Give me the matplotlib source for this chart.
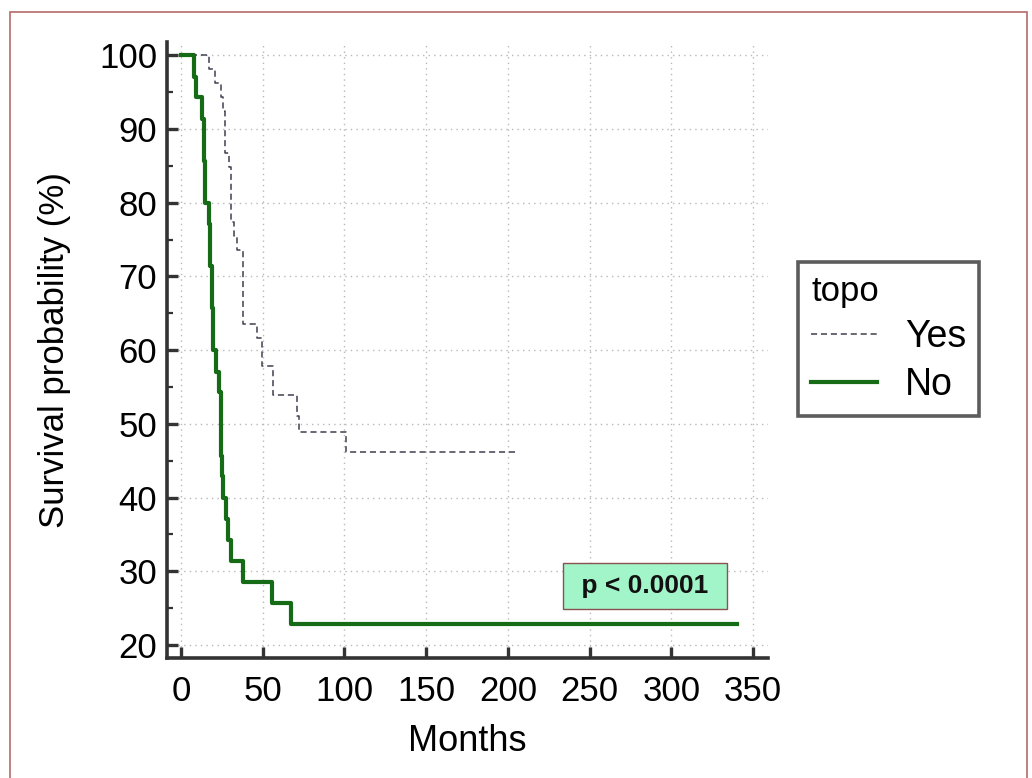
import matplotlib
matplotlib.use("Agg")
import matplotlib.pyplot as plt
from matplotlib.patches import Rectangle
from matplotlib.ticker import MultipleLocator

# Kaplan-Meier step data (months, survival %)
yes_months = [0, 17.3, 20.8, 24.2, 25.4, 26.9, 29.5, 30.7, 32.4, 34.0, 37.8,
              46.6, 49.3, 56.4, 70.7, 72.3, 100.7, 206.0]
yes_surv = [100, 98.1, 96.2, 94.3, 92.5, 86.8, 84.9, 77.4, 75.5, 73.6, 63.6,
            61.6, 57.8, 53.9, 51.0, 48.9, 46.2, 46.2]

no_months = [0, 8.1, 9.2, 12.6, 14.0, 14.2, 14.7, 14.9, 17.3, 17.5, 17.7,
             18.7, 18.9, 19.4, 19.6, 21.4, 23.4, 24.2, 24.4, 24.6, 24.8,
             25.9, 27.3, 28.9, 30.6, 38.1, 55.8, 67.6, 340.5]
no_surv = [100, 97.1, 94.3, 91.4, 88.6, 85.7, 82.9, 80.0, 77.1, 74.3, 71.4,
           68.6, 65.7, 62.9, 60.0, 57.1, 54.3, 51.4, 48.6, 45.7, 42.9,
           40.0, 37.1, 34.3, 31.4, 28.6, 25.7, 22.9, 22.9]

group_labels = ["Yes", "No"]
legend_title = "topo"
x_ticks = [0, 50, 100, 150, 200, 250, 300, 350]
y_ticks = [20, 30, 40, 50, 60, 70, 80, 90, 100]
p_text = "p < 0.0001"

FONT = "Liberation Sans"
W, H = 1032, 778
fig = plt.figure(figsize=(W / 100, H / 100), dpi=100)
fig.patch.set_facecolor("white")

# thin frame around the whole figure
fig.patches.append(Rectangle((10 / W, -0.02), (1027 - 10) / W, 1 - 12 / H + 0.02,
                             transform=fig.transFigure, fill=False,
                             edgecolor="#b86a6a", linewidth=1.2))

ax = fig.add_axes([167 / W, (H - 658) / H, (768 - 167) / W, (658 - 42) / H])
ax.set_xlim(-8.57, 359.2)
ax.set_ylim(18.24, 101.8)

green = "#166b16"
ax.step(yes_months, yes_surv, where="post", color="#40404f", linewidth=1.1,
        linestyle=(0, (4, 2.5)), label=group_labels[0], zorder=3)
ax.step(no_months, no_surv, where="post", color=green, linewidth=3.0,
        label=group_labels[1], zorder=4)

# axes styling
for side in ("top", "right"):
    ax.spines[side].set_visible(False)
for side in ("left", "bottom"):
    ax.spines[side].set_linewidth(2.6)
    ax.spines[side].set_color("#333333")

ax.set_xticks(x_ticks)
ax.set_yticks(y_ticks)
ax.yaxis.set_minor_locator(MultipleLocator(5))
ax.tick_params(which="major", direction="in", length=8, width=2.4, color="#333333")
ax.tick_params(axis="y", which="minor", direction="in", length=4, width=1.6,
               color="#333333")
ax.tick_params(axis="x", which="major", pad=12)
ax.tick_params(axis="y", which="major", pad=7)
for lab in ax.get_xticklabels() + ax.get_yticklabels():
    lab.set_fontfamily(FONT)
    lab.set_fontsize(25)

ax.grid(True, which="major", linestyle=(0, (1, 3)), color="#b8b8b8", linewidth=1.0)
ax.set_axisbelow(True)

ax.set_xlabel("Months", fontfamily=FONT, fontsize=26, labelpad=12)
ax.set_ylabel("Survival probability (%)", fontfamily=FONT, fontsize=25,
              labelpad=20)

# p-value annotation
ax.text(284, 28.0, " " + p_text + " ", ha="center", va="center", fontsize=19,
        fontweight="bold", fontfamily=FONT, color="#111111", zorder=6,
        bbox=dict(boxstyle="square,pad=0.42", facecolor="#a2f5c9",
                  edgecolor="#8b5050", linewidth=1.0))

# legend
leg = ax.legend(title=legend_title, loc="upper left",
                bbox_to_anchor=(798 / W, 1 - 262 / H), bbox_transform=fig.transFigure,
                frameon=True, fancybox=False, edgecolor="#333333",
                prop={"family": FONT, "size": 27},
                title_fontproperties={"family": FONT, "size": 25},
                handlelength=1.75, handletextpad=0.75, borderpad=0.35,
                labelspacing=0.3, borderaxespad=0)
leg._legend_box.align = "left"
leg.get_frame().set_linewidth(2.6)

fig.savefig("out.png", dpi=100, facecolor="white")
